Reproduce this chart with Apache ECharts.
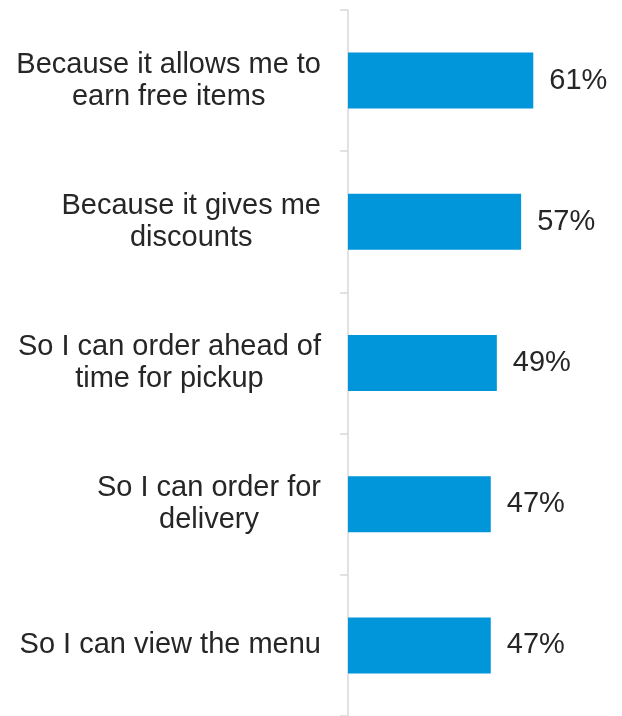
<!DOCTYPE html>
<html>
<head>
<meta charset="utf-8">
<style>
  html, body { margin: 0; padding: 0; background: #ffffff; }
  #chart { width: 622px; height: 716px; }
</style>
<script src="https://cdn.jsdelivr.net/npm/echarts@6/dist/echarts.min.js"></script>
</head>
<body>
<div id="chart"></div>
<script>
// Reasons for using a restaurant app (share of respondents, %)
const categories = [
  'Because it allows me to\nearn free items',
  'Because it gives me\ndiscounts',
  'So I can order ahead of\ntime for pickup',
  'So I can order for\ndelivery',
  'So I can view the menu'
];
const values = [61, 57, 49, 47, 47];

const textColor = '#262626';
const fontFamily = 'Liberation Sans, Arial, sans-serif';

const chart = echarts.init(document.getElementById('chart'), null, { renderer: 'canvas' });

chart.setOption({
  animation: false,
  backgroundColor: '#ffffff',
  grid: { left: 348, top: 10, width: 243, height: 710, containLabel: false },
  xAxis: {
    type: 'value',
    min: 0,
    max: 80,
    show: false
  },
  yAxis: {
    type: 'category',
    data: categories,
    inverse: true,
    axisLine: { show: true, lineStyle: { color: '#d9d9d9', width: 1.5 } },
    axisTick: { show: true, length: 8, lineStyle: { color: '#d9d9d9', width: 1.5 } },
    splitLine: { show: false },
    axisLabel: {
      margin: 27,
      align: 'right',
      formatter: v => v.split('\n').map(s => '{c|' + s + '}').join('\n'),
      rich: {
        c: {
          align: 'center',
          fontSize: 29,
          lineHeight: 32,
          color: textColor,
          fontFamily: fontFamily
        }
      }
    }
  },
  series: [{
    type: 'bar',
    data: values,
    barWidth: 56,
    itemStyle: { color: '#0096d9' },
    label: {
      show: true,
      position: 'right',
      distance: 16,
      formatter: p => p.value + '%',
      fontSize: 29,
      color: textColor,
      fontFamily: fontFamily
    }
  }]
});
</script>
</body>
</html>
